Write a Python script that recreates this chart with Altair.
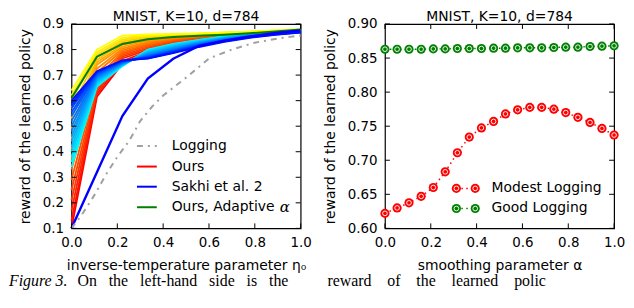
import altair as alt
import pandas as pd

TITLE = "MNIST, K=10, d=784"
FONT = "DejaVu Sans"

# ---------------- left panel data ----------------
eta = [0.0, 0.111, 0.222, 0.333, 0.444, 0.556, 0.667, 0.778, 0.889, 1.0]

logging_eta = [0.0, 0.05, 0.1, 0.15, 0.2, 0.25, 0.3, 0.35, 0.4, 0.5, 0.6, 0.7, 0.8, 0.9, 1.0]
logging_reward = [0.10, 0.16, 0.23, 0.31, 0.38, 0.44, 0.52, 0.575, 0.62, 0.69, 0.765, 0.80, 0.827, 0.843, 0.855]

sakhi_reward = [0.10, 0.32, 0.54, 0.686, 0.764, 0.814, 0.835, 0.851, 0.865, 0.875]
adaptive_reward = [0.61, 0.772, 0.822, 0.840, 0.849, 0.854, 0.858, 0.864, 0.871, 0.879]

ours_warm = [
    [0.10, 0.13, 0.17, 0.21, 0.25, 0.29, 0.33, 0.37, 0.41, 0.45, 0.49, 0.53, 0.57, 0.60, 0.62, 0.64],
    [0.615, 0.625, 0.635, 0.645, 0.655, 0.67, 0.69, 0.71, 0.725, 0.74, 0.75, 0.76, 0.77, 0.78, 0.79, 0.80],
    [0.745, 0.755, 0.765, 0.772, 0.778, 0.784, 0.79, 0.797, 0.804, 0.811, 0.818, 0.825, 0.832, 0.839, 0.846, 0.855],
    [0.785, 0.792, 0.799, 0.805, 0.81, 0.815, 0.82, 0.825, 0.83, 0.835, 0.84, 0.844, 0.848, 0.852, 0.855, 0.859],
    [0.812, 0.818, 0.823, 0.828, 0.832, 0.836, 0.84, 0.843, 0.846, 0.849, 0.851, 0.853, 0.855, 0.857, 0.859, 0.861],
    [0.832, 0.836, 0.84, 0.843, 0.846, 0.849, 0.851, 0.853, 0.855, 0.857, 0.858, 0.859, 0.86, 0.861, 0.862, 0.863],
    [0.846, 0.849, 0.852, 0.854, 0.856, 0.858, 0.859, 0.86, 0.861, 0.862, 0.863, 0.864, 0.865, 0.866, 0.866, 0.867],
    [0.857, 0.859, 0.861, 0.862, 0.863, 0.864, 0.865, 0.866, 0.867, 0.867, 0.868, 0.868, 0.869, 0.869, 0.87, 0.87],
    [0.865, 0.866, 0.867, 0.868, 0.869, 0.87, 0.87, 0.871, 0.871, 0.872, 0.872, 0.873, 0.873, 0.874, 0.874, 0.875],
    [0.871, 0.872, 0.873, 0.873, 0.874, 0.874, 0.875, 0.875, 0.876, 0.876, 0.877, 0.877, 0.878, 0.878, 0.879, 0.88],
]
ours_cool = [
    [0.34, 0.36, 0.38, 0.40, 0.42, 0.44, 0.46, 0.48, 0.50, 0.52, 0.54, 0.555, 0.57, 0.58, 0.59, 0.60],
    [0.655, 0.66, 0.665, 0.67, 0.675, 0.68, 0.685, 0.69, 0.694, 0.698, 0.702, 0.705, 0.708, 0.711, 0.713, 0.715],
    [0.735, 0.737, 0.738, 0.74, 0.741, 0.743, 0.744, 0.746, 0.748, 0.75, 0.751, 0.753, 0.754, 0.756, 0.757, 0.758],
    [0.80, 0.798, 0.795, 0.793, 0.79, 0.787, 0.784, 0.781, 0.778, 0.775, 0.773, 0.771, 0.769, 0.767, 0.766, 0.765],
    [0.822, 0.82, 0.818, 0.816, 0.813, 0.81, 0.807, 0.804, 0.801, 0.798, 0.796, 0.794, 0.792, 0.79, 0.788, 0.786],
    [0.838, 0.837, 0.835, 0.833, 0.831, 0.829, 0.827, 0.825, 0.823, 0.821, 0.819, 0.817, 0.815, 0.813, 0.812, 0.81],
    [0.852, 0.851, 0.849, 0.848, 0.846, 0.845, 0.843, 0.842, 0.84, 0.839, 0.837, 0.836, 0.834, 0.833, 0.832, 0.83],
    [0.862, 0.861, 0.86, 0.859, 0.858, 0.857, 0.856, 0.855, 0.854, 0.853, 0.852, 0.851, 0.85, 0.849, 0.848, 0.846],
    [0.869, 0.868, 0.868, 0.867, 0.866, 0.866, 0.865, 0.864, 0.864, 0.863, 0.862, 0.862, 0.861, 0.86, 0.859, 0.858],
    [0.875, 0.875, 0.874, 0.874, 0.873, 0.872, 0.872, 0.871, 0.871, 0.87, 0.869, 0.869, 0.868, 0.868, 0.867, 0.866],
]
warm_colors = ["#ff0000", "#ff1100", "#ff2200", "#ff3300", "#ff4400", "#ff5500", "#ff6600", "#ff7700",
               "#ff8800", "#ff9900", "#ffaa00", "#ffbb00", "#ffcc00", "#ffdd00", "#ffee00", "#ffff00"]
cool_colors = ["#00ffff", "#00f0ff", "#00e0ff", "#00d0ff", "#00c0ff", "#00b0ff", "#00a0ff", "#0090ff",
               "#0080ff", "#0070ff", "#0060ff", "#0050ff", "#0040ff", "#0030ff", "#0020ff", "#0010ff"]

left_xticks = [0.0, 0.2, 0.4, 0.6, 0.8, 1.0]
left_yticks = [0.1, 0.2, 0.3, 0.4, 0.5, 0.6, 0.7, 0.8, 0.9]

# ---------------- right panel data ----------------
alpha = [0.00, 0.053, 0.105, 0.158, 0.211, 0.263, 0.316, 0.368, 0.421, 0.474,
         0.526, 0.579, 0.632, 0.684, 0.737, 0.789, 0.842, 0.895, 0.947, 1.00]
modest_logging = [0.622, 0.630, 0.6375, 0.647, 0.660, 0.683, 0.711, 0.734, 0.7475, 0.757,
                  0.768, 0.774, 0.7776, 0.7776, 0.775, 0.770, 0.763, 0.7555, 0.7467, 0.737]
good_logging = [0.863, 0.863, 0.863, 0.863, 0.8635, 0.8635, 0.864, 0.864, 0.864, 0.8645,
                0.8645, 0.865, 0.865, 0.865, 0.8655, 0.866, 0.866, 0.867, 0.8675, 0.868]
right_xticks = [0.0, 0.2, 0.4, 0.6, 0.8, 1.0]
right_yticks = [0.60, 0.65, 0.70, 0.75, 0.80, 0.85, 0.90]

# first caption line of the paper, cut by the bottom edge in the reference
caption_label = "Figure 3."
caption_words_left = ["On", "the", "left-hand", "side", "is", "the"]
caption_words_right = ["reward", "of", "the", "learned", "polic"]

W, H = 231, 206
TL = 5

RED, BLUE, GREEN, GRAY = "#ff0000", "#0000ff", "#008000", "#a0a0a0"
CAP_FONT, CAP_SIZE, CAP_Y = "Liberation Serif", 16, 264


def X(domain, ticks, title):
    return alt.X("x:Q", scale=alt.Scale(domain=domain, nice=False, zero=False),
                 axis=alt.Axis(values=ticks, format=".1f", title=title, labelFlush=False,
                               labelOverlap=False, labelPadding=7, titlePadding=10))


def Y(domain, ticks, fmt):
    return alt.Y("y:Q", scale=alt.Scale(domain=domain, nice=False, zero=False),
                 axis=alt.Axis(values=ticks, format=fmt, title="reward of the learned policy",
                               labelFlush=False, labelOverlap=False, labelPadding=8, titlePadding=10))


def tick_layers(xe, xt, ye, yt):
    xdf = pd.DataFrame({"x": xt})
    ydf = pd.DataFrame({"y": yt})
    base_x = alt.Chart(xdf).mark_rule(color="black", strokeWidth=1)
    base_y = alt.Chart(ydf).mark_rule(color="black", strokeWidth=1)
    return [
        base_x.encode(x=xe, y=alt.value(H), y2=alt.value(H - TL)),
        base_x.encode(x=xe, y=alt.value(0), y2=alt.value(TL)),
        base_y.encode(y=ye, x=alt.value(0), x2=alt.value(TL)),
        base_y.encode(y=ye, x=alt.value(W - TL), x2=alt.value(W)),
    ]


one = pd.DataFrame({"a": [0]})


def legend_line(y, color, dash=None, width=2):
    kw = dict(color=color, strokeWidth=width)
    if dash:
        kw["strokeDash"] = dash
    return alt.Chart(one).mark_rule(**kw).encode(x=alt.value(66), x2=alt.value(86), y=alt.value(y))


def label(text, x, y, size=14, font=FONT, style="normal", baseline="middle", align="left"):
    return alt.Chart(one).mark_text(text=text, align=align, baseline=baseline, font=font,
                                    fontSize=size, fontStyle=style, color="black").encode(
        x=alt.value(x), y=alt.value(y))


def panel_title():
    return label(TITLE, W / 2, -3, size=14, baseline="alphabetic", align="center")


LX = X([0, 1], left_xticks, "inverse-temperature parameter η₀")
LY = Y([0.1, 0.9], left_yticks, ".1f")

keys_w = [f"w{k:02d}" for k in range(len(warm_colors))]
keys_c = [f"c{k:02d}" for k in range(len(cool_colors))]
color_scale = alt.Scale(domain=keys_w + keys_c, range=warm_colors + cool_colors)

warm_df = pd.DataFrame([{"x": e, "y": v, "line": keys_w[k]}
                        for e, row in zip(eta, ours_warm) for k, v in enumerate(row)])
cool_df = pd.DataFrame([{"x": e, "y": v, "line": keys_c[k]}
                        for e, row in zip(eta, ours_cool) for k, v in enumerate(row)])

warm = alt.Chart(warm_df).mark_line(strokeWidth=1.8).encode(
    x=LX, y=LY, color=alt.Color("line:N", scale=color_scale, legend=None))
cool = alt.Chart(cool_df).mark_line(strokeWidth=1.8).encode(
    x=LX, y=LY, color=alt.Color("line:N", scale=color_scale, legend=None))
adaptive = alt.Chart(pd.DataFrame({"x": eta, "y": adaptive_reward})).mark_line(
    color=GREEN, strokeWidth=2).encode(x=LX, y=LY)
sakhi = alt.Chart(pd.DataFrame({"x": eta, "y": sakhi_reward})).mark_line(
    color=BLUE, strokeWidth=2.4).encode(x=LX, y=LY)
logging = alt.Chart(pd.DataFrame({"x": logging_eta, "y": logging_reward})).mark_line(
    color=GRAY, strokeWidth=2, strokeDash=[6, 5, 2, 5]).encode(x=LX, y=LY)

left_legend = [
    legend_line(123, GRAY, dash=[6, 5, 2, 5]), label("Logging", 101, 123),
    legend_line(143.7, RED), label("Ours", 101, 143.7),
    legend_line(164, BLUE), label("Sakhi et al. 2", 101, 164),
    legend_line(184.7, GREEN), label("Ours, Adaptive", 101, 184.7),
    label("α", 210, 184.7, size=15, font="DejaVu Serif", style="italic"),
]

caption_left = [
    label(caption_label, -63, CAP_Y, size=CAP_SIZE, font=CAP_FONT, style="italic", baseline="alphabetic"),
    label((" \u00a0\u00a0").join(caption_words_left), 6, CAP_Y, size=CAP_SIZE, font=CAP_FONT,
          baseline="alphabetic"),
]

left = alt.layer(
    warm, cool, adaptive, sakhi, logging,
    *tick_layers(LX, left_xticks, LY, left_yticks),
    *left_legend, panel_title(), *caption_left,
).properties(width=W, height=H)

RX = X([0, 1], right_xticks, "smoothing parameter α")
RY = Y([0.6, 0.9], right_yticks, ".2f")


def dotted_series(values, color):
    df = pd.DataFrame({"x": alpha, "y": values})
    line = alt.Chart(df).mark_line(color=color, strokeWidth=1.5, strokeDash=[1.5, 3.5]).encode(x=RX, y=RY)
    outer = alt.Chart(df).mark_point(shape="circle", filled=True, color=color, size=85, opacity=1).encode(x=RX, y=RY)
    inner = alt.Chart(df).mark_point(shape="circle", filled=False, color="white", size=22,
                                     strokeWidth=0.9, opacity=1).encode(x=RX, y=RY)
    return [line, outer, inner]


def legend_marker_pair(y, color):
    layers = [alt.Chart(one).mark_rule(color=color, strokeWidth=1.5, strokeDash=[1.5, 3.5]).encode(
        x=alt.value(72), x2=alt.value(91), y=alt.value(y))]
    for xv in (72, 91):
        layers.append(alt.Chart(one).mark_point(shape="circle", filled=True, color=color, size=85, opacity=1)
                      .encode(x=alt.value(xv), y=alt.value(y)))
        layers.append(alt.Chart(one).mark_point(shape="circle", filled=False, color="white", size=22,
                                                strokeWidth=0.9, opacity=1).encode(x=alt.value(xv), y=alt.value(y)))
    return layers


right = alt.layer(
    *dotted_series(good_logging, GREEN),
    *dotted_series(modest_logging, RED),
    *tick_layers(RX, right_xticks, RY, right_yticks),
    *legend_marker_pair(165.7, RED), label("Modest Logging", 107.5, 165.7),
    *legend_marker_pair(186, GREEN), label("Good Logging", 107.5, 186),
    panel_title(),
    label((" \u00a0\u00a0\u00a0").join(caption_words_right), -58, CAP_Y, size=CAP_SIZE, font=CAP_FONT,
          baseline="alphabetic"),
).properties(width=W, height=H)

chart = alt.hconcat(
    left, right, spacing=10,
    padding={"left": 0, "top": 0, "right": 0, "bottom": 0},
).configure_view(
    stroke="black", strokeWidth=1.2
).configure_axis(
    grid=False, ticks=False, domain=False, labelFont=FONT, titleFont=FONT,
    labelFontSize=13.5, titleFontSize=14, titleFontWeight="normal",
    labelColor="black", titleColor="black",
)

chart.save("out.html", embed_options={"renderer": "svg", "actions": False})
